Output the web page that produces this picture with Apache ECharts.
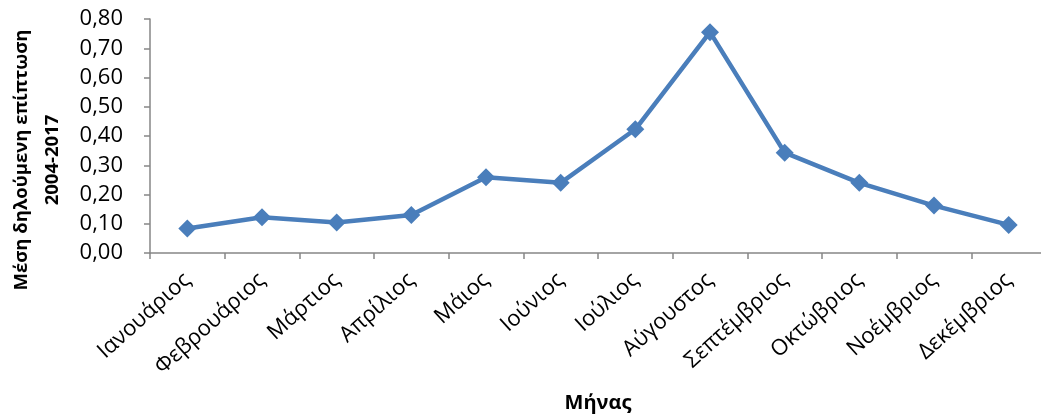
<!DOCTYPE html>
<html>
<head>
<meta charset="utf-8">
<script src="https://cdn.jsdelivr.net/npm/echarts@6/dist/echarts.min.js"></script>
<style>
  html, body { margin: 0; padding: 0; background: #fff; }
  #chartWrap { width: 1041px; height: 416px; }
</style>
</head>
<body>
<div id="chartWrap"></div>
<script>
// months
const months = ['Ιανουάριος', 'Φεβρουάριος', 'Μάρτιος', 'Απρίλιος', 'Μάιος', 'Ιούνιος',
    'Ιούλιος', 'Αύγουστος', 'Σεπτέμβριος', 'Οκτώβριος', 'Νοέμβριος', 'Δεκέμβριος'];
// mean reported incidence 2004-2017
const incidence = [0.084, 0.122, 0.104, 0.130, 0.259, 0.240, 0.423, 0.755, 0.343, 0.240, 0.162, 0.096];

const yName = 'Μέση δηλούμενη επίπτωση\n2004-2017';
const xName = 'Μήνας';

const font = '"Open Sans", "Noto Sans", sans-serif';
const axisColor = '#868686';
const blue = '#4A7EBB';

let myChart = echarts.init(document.getElementById('chartWrap'));

myChart.setOption({
    animation: false,
    grid: {
        left: 150,
        top: 19,
        width: 896,
        height: 234,
        containLabel: false,
        outerBoundsMode: 'none'
    },
    xAxis: {
        type: 'category',
        data: months,
        boundaryGap: true,
        name: xName,
        nameLocation: 'middle',
        nameGap: 140,
        nameTextStyle: {
            fontFamily: font,
            fontSize: 20,
            fontWeight: 'bold',
            color: '#000'
        },
        axisLine: {lineStyle: {color: axisColor, width: 1.5}},
        axisTick: {show: true, length: 6, lineStyle: {color: axisColor, width: 1.5}},
        axisLabel: {
            interval: 0,
            rotate: 42,
            margin: 24,
            fontFamily: font,
            fontSize: 22,
            color: '#000'
        },
        splitLine: {show: false}
    },
    yAxis: {
        type: 'value',
        min: 0,
        max: 0.8,
        interval: 0.1,
        name: yName,
        nameLocation: 'middle',
        nameGap: 80,
        nameRotate: 90,
        nameTextStyle: {
            fontFamily: font,
            fontSize: 18.5,
            fontWeight: 'bold',
            color: '#000',
            lineHeight: 31,
            padding: [0, 48, 0, 0]
        },
        axisLine: {show: true, lineStyle: {color: axisColor, width: 1.5}},
        axisTick: {show: true, length: 6, lineStyle: {color: axisColor, width: 1.5}},
        axisLabel: {
            margin: 27,
            fontFamily: font,
            fontSize: 22,
            color: '#000',
            formatter: function (v) {
                return v.toFixed(2).replace('.', ',');
            }
        },
        splitLine: {show: false}
    },
    series: [
        {
            type: 'line',
            data: incidence,
            symbol: 'diamond',
            symbolSize: 18,
            lineStyle: {color: blue, width: 4.5},
            itemStyle: {color: blue}
        }
    ]
});
</script>
</body>
</html>
